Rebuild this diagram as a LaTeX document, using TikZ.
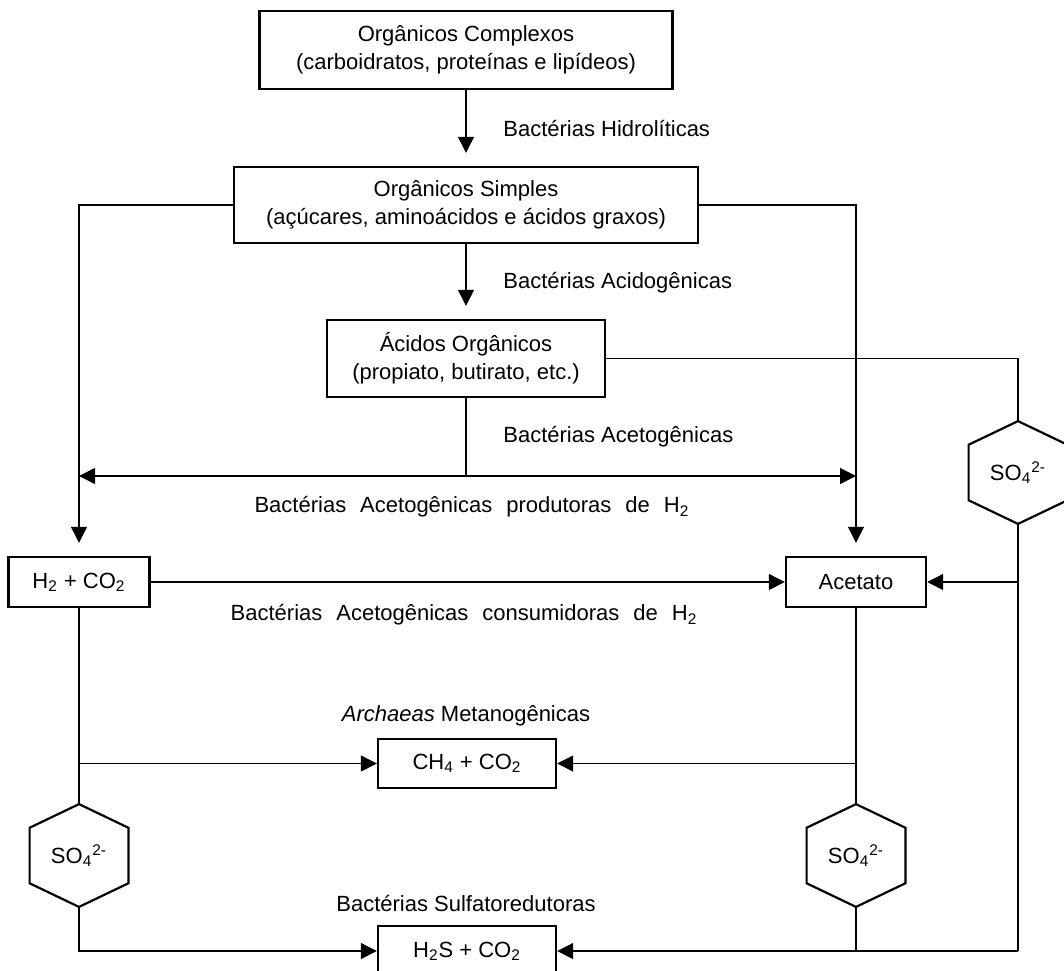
\documentclass[tikz,border=0pt]{standalone}
\usepackage{fontspec}
\setmainfont{Liberation Sans}
\usetikzlibrary{arrows.meta,calc}

\begin{document}
\begin{tikzpicture}[x=0.5pt, y=-0.5pt, font=\fontsize{11}{14}\selectfont,
    caixa/.style = {draw, line width=1.2pt, align=center, inner sep=0pt},
    hexa/.style = {inner sep=0pt, minimum width=49pt, minimum height=51pt},
    seta/.style = {line width=0.6pt, -{Triangle[length=8pt,width=8pt]}},
    linha/.style = {line width=0.6pt},
    rotulo/.style = {inner sep=0pt},
    largo/.style = {rotulo, execute at begin node={\spaceskip=7pt plus 1pt\relax}}]
    \useasboundingbox (0,0) rectangle (1064,970);

    \node[caixa, minimum width=206.5pt, minimum height=39pt] (complexos) at (466,50) {Orgânicos Complexos\\(carboidratos, proteínas e lipídeos)};
    \node[caixa, minimum width=232pt, minimum height=38pt] (simples) at (466,205) {Orgânicos Simples\\(açúcares, aminoácidos e ácidos graxos)};
    \node[caixa, minimum width=139pt, minimum height=38.5pt] (acidos) at (466,358.5) {Ácidos Orgânicos\\(propiato, butirato, etc.)};
    \node[caixa, minimum width=70.5pt, minimum height=25pt] (h2co2) at (79,582) {H\textsubscript{2} + CO\textsubscript{2}};
    \node[caixa, minimum width=70pt, minimum height=25pt] (acetato) at (856,582) {Acetato};
    \node[caixa, minimum width=89pt, minimum height=24.5pt] (ch4) at (467,763.5) {CH\textsubscript{4} + CO\textsubscript{2}};
    \node[caixa, minimum width=89pt, minimum height=25pt] (h2s) at (467,951) {H\textsubscript{2}S + CO\textsubscript{2}};

    \node[hexa] (so4a) at (1018,472.5) {SO\textsubscript{4}\textsuperscript{2-}};
    \node[hexa] (so4b) at (79,855.5) {SO\textsubscript{4}\textsuperscript{2-}};
    \node[hexa] (so4c) at (856,855.5) {SO\textsubscript{4}\textsuperscript{2-}};
    \foreach \h in {so4a,so4b,so4c}
        \draw[line width=1.1pt] (\h.north) -- ($(\h.north east)!0.23!(\h.south east)$) -- ($(\h.north east)!0.77!(\h.south east)$)
            -- (\h.south) -- ($(\h.north west)!0.77!(\h.south west)$) -- ($(\h.north west)!0.23!(\h.south west)$) -- cycle;

    \node[rotulo, anchor=west] (hidroliticas) at (503,129) {Bactérias Hidrolíticas};
    \node[rotulo, anchor=west] (acidogenicas) at (503,283) {Bactérias Acidogênicas};
    \node[rotulo, anchor=west] (acetogenicas) at (503,437) {Bactérias Acetogênicas};
    \node[largo] (produtoras) at (472,507) {Bactérias Acetogênicas produtoras de H\textsubscript{2}};
    \node[largo] (consumidoras) at (464,615) {Bactérias Acetogênicas consumidoras de H\textsubscript{2}};
    \node[rotulo] (metanogenicas) at (466,716) {\textit{Archaeas} Metanogênicas};
    \node[rotulo] (sulfatored) at (466,903) {Bactérias Sulfatoredutoras};

    \coordinate (divide) at (acidos.south |- 0,476);
    \coordinate (r1) at (so4a.south |- acetato);
    \coordinate (r2) at (so4a.south |- h2s);

    \draw[seta, shorten >=6.5pt] (complexos) -- (simples);
    \draw[seta, shorten >=6.5pt] (simples) -- (acidos);
    \draw[seta, shorten >=6.5pt] (simples.west) -| (h2co2.north);
    \draw[seta, shorten >=6.5pt] (simples.east) -| (acetato.north);
    \draw[linha] (acidos.east) -| (so4a.north);
    \draw[linha] (acidos.south) -- (divide);
    \draw[seta] (divide) -- (divide -| h2co2);
    \draw[seta] (divide) -- (divide -| acetato);
    \draw[seta] (h2co2.east) -- (acetato.west);
    \draw[linha] (so4a.south) -- (r2);
    \draw[seta] (r1) -- (acetato.east);
    \draw[seta] (r2) -- (h2s.east);

    \draw[linha] (h2co2.south) -- (so4b.north);
    \draw[seta] (h2co2 |- ch4) -- (ch4.west);
    \draw[seta] (so4b.south) |- (h2s.west);
    \draw[linha] (acetato.south) -- (so4c.north);
    \draw[seta] (acetato |- ch4) -- (ch4.east);
    \draw[linha] (so4c.south) -- (so4c |- h2s);
\end{tikzpicture}
\end{document}
